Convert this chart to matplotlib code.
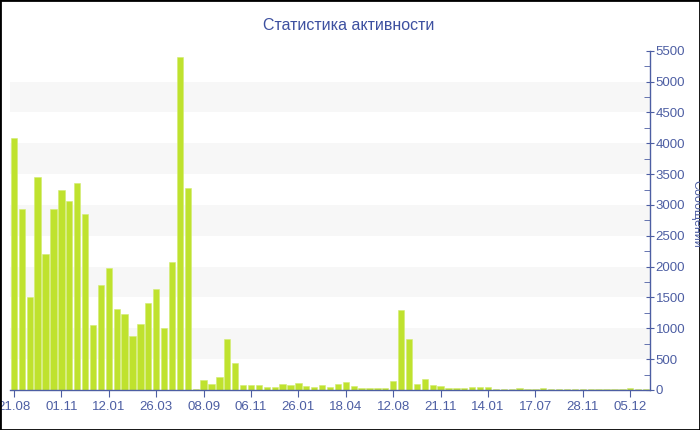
import matplotlib
matplotlib.use("Agg")
import matplotlib.pyplot as plt
from matplotlib.ticker import MultipleLocator

# messages per period
messages = [
    4080, 2940, 1500, 3450, 2210, 2940, 3250, 3060, 3350, 2860,
    1060, 1700, 1970, 1310, 1240, 870, 1070, 1410, 1630, 1010,
    2080, 5390, 3280, 20, 170, 100, 215, 820, 430, 75,
    75, 75, 50, 45, 95, 85, 110, 65, 50, 75,
    50, 95, 130, 65, 40, 25, 25, 25, 145, 1290,
    830, 90, 175, 75, 70, 40, 30, 30, 50, 50,
    50, 20, 20, 20, 30, 20, 15, 35, 20, 20,
    20, 20, 20, 20, 20, 20, 20, 20, 35, 20,
    20,
]
tick_labels = ["21.08", "01.11", "12.01", "26.03", "08.09", "06.11", "26.01",
               "18.04", "12.08", "21.11", "14.01", "17.07", "28.11", "05.12"]
tick_step = 6

BAR = "#bfe22e"
AXIS = "#4d5ea3"
TITLE = "#3d50a0"
BAND = "#f7f7f7"

plt.rcParams["font.family"] = ["Liberation Sans", "DejaVu Sans"]

fig = plt.figure(figsize=(7, 4.3), dpi=100)
ax = fig.add_axes([10 / 700, 40 / 430, 640 / 700, 339.3 / 430])

ymax = 5500
for lo in range(500, ymax, 1000):
    ax.axhspan(lo, lo + 500, color=BAND, zorder=0, lw=0)

x = range(len(messages))
ax.bar(x, messages, width=0.8, color=BAR, edgecolor="#d3ec72", linewidth=0.4, zorder=2)

ax.set_xlim(-0.5, len(messages) - 0.5)
ax.set_ylim(0, ymax)
ax.set_xticks(range(0, len(messages), tick_step)[:len(tick_labels)])
ax.set_xticklabels(tick_labels)

ax.yaxis.tick_right()
ax.yaxis.set_major_locator(MultipleLocator(500))
ax.yaxis.set_minor_locator(MultipleLocator(250))
for s in ("top", "left"):
    ax.spines[s].set_visible(False)
for s in ("right", "bottom"):
    ax.spines[s].set_color(AXIS)
    ax.spines[s].set_linewidth(1)
ax.tick_params(axis="x", colors=AXIS, labelsize=9.5, length=5, pad=3)
ax.tick_params(axis="y", which="major", colors=AXIS, labelsize=9.5,
               direction="inout", length=6, pad=1)
ax.tick_params(axis="y", which="minor", colors=AXIS, direction="in", length=4)
ax.set_facecolor("white")

fig.text(349 / 700, 1 - 25 / 430, "Статистика активности", color=TITLE,
         fontsize=11.5, ha="center", va="center")
fig.text(697 / 700, 1 - 214 / 430, "Сообщений", color=AXIS, fontsize=9,
         rotation=270, ha="center", va="center")

fig.patches.append(plt.Rectangle((0, 0), 1, 1, transform=fig.transFigure,
                                 fill=False, edgecolor="black", lw=2))

fig.savefig("out.png", dpi=100)
